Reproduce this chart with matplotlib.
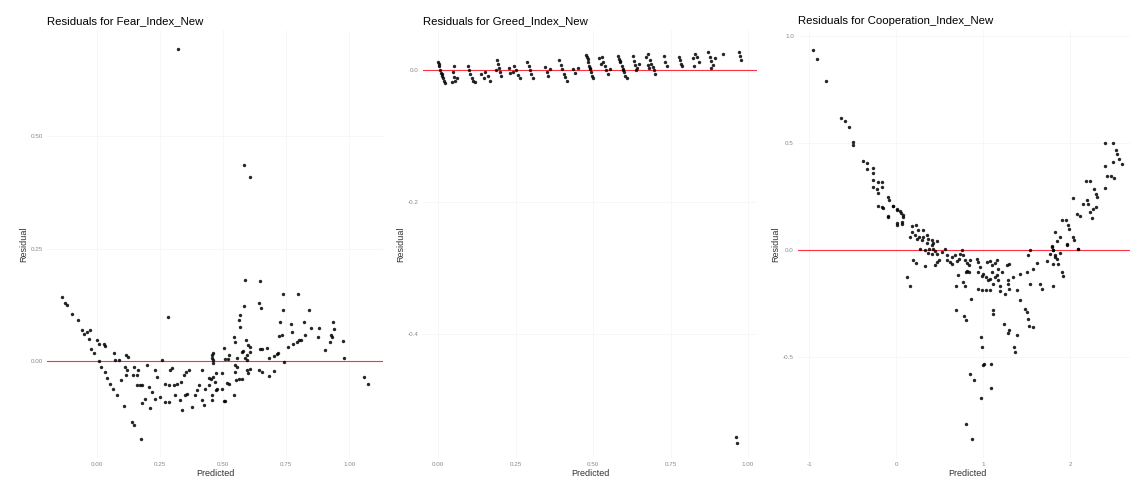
import numpy as np
import matplotlib
matplotlib.use('Agg')
import matplotlib.pyplot as plt

plt.rcParams['font.family'] = ['Liberation Sans', 'DejaVu Sans']

# --- Fear_Index_New residuals (predicted, residual) ---
fear_pred = [
    -0.14, -0.127, -0.12, -0.10, -0.077, -0.06, -0.054, -0.041, -0.028,
    -0.035, -0.001, 0.005, 0.025, 0.032, -0.024, -0.015, 0.005,
    0.016, 0.029, 0.038, 0.052, 0.061, 0.078, 0.104, 0.138, 0.146, 0.175,
    0.071, 0.085, 0.065, 0.114, 0.122,
    0.111, 0.118, 0.144, 0.161, 0.157, 0.140, 0.114, 0.095, 0.197, 0.257, 0.28,
    0.157, 0.171, 0.177, 0.204, 0.217, 0.23, 0.237, 0.19, 0.177, 0.21,
    0.23, 0.25, 0.27, 0.283, 0.29, 0.296,
    0.27, 0.283, 0.303, 0.316, 0.333, 0.342, 0.352, 0.362,
    0.31, 0.329, 0.349, 0.336, 0.356, 0.376, 0.389, 0.396, 0.402, 0.415,
    0.422, 0.429, 0.442, 0.455, 0.444, 0.415, 0.455, 0.461, 0.461,
    0.587, 0.644, 0.737, 0.795, 0.581, 0.640, 0.650, 0.567, 0.561, 0.565,
    0.737, 0.841, 0.726, 0.769, 0.819, 0.935, 0.940, 0.773, 0.848, 0.878, 0.875,
    0.723, 0.733, 0.825, 0.799, 0.808, 0.792, 0.776, 0.755, 0.927, 0.931,
    0.925, 0.977, 0.905, 0.980,
    0.544, 0.548, 0.591, 0.504, 0.6, 0.607, 0.604, 0.58, 0.574, 0.594, 0.587,
    0.594, 0.554, 0.521, 0.517, 0.647, 0.653, 0.673, 0.68, 0.7, 0.713, 0.719, 0.739,
    0.455, 0.461, 0.508, 0.548, 0.554, 0.548, 0.552, 0.561, 0.574, 0.594, 0.6,
    0.607, 0.64, 0.653, 0.68, 0.702, 0.495, 0.472, 0.461, 0.451, 0.468, 0.475,
    0.472, 0.495, 0.515, 0.521, 0.541, 0.501, 0.508, 0.455,
    1.06, 1.073, 0.321, 0.581, 0.604,
]
fear_resid = [
    0.143, 0.128, 0.124, 0.104, 0.091, 0.069, 0.061, 0.065, 0.069,
    0.050, 0.047, 0.039, 0.037, 0.034, 0.028, 0.017, 0.0,
    -0.013, -0.025, -0.037, -0.050, -0.061, -0.076, -0.10, -0.135, -0.141, -0.172,
    0.002, 0.002, 0.017, 0.013, 0.010,
    -0.013, -0.020, -0.013, -0.020, -0.031, -0.031, -0.031, -0.042, -0.009, 0.002, 0.098,
    -0.053, -0.053, -0.053, -0.057, -0.068, -0.02, -0.035, -0.083, -0.094, -0.105,
    -0.083, -0.079, -0.09, -0.09, -0.02, -0.016,
    -0.05, -0.053, -0.053, -0.05, -0.046, -0.031, -0.025, -0.02,
    -0.076, -0.087, -0.076, -0.109, -0.072, -0.101, -0.076, -0.064, -0.053, -0.087,
    -0.098, -0.061, -0.053, -0.076, -0.038, -0.02, 0.006, -0.005, 0.017,
    0.18, 0.178, 0.149, 0.149, 0.122, 0.13, 0.119, 0.102, 0.091, 0.075,
    0.113, 0.113, 0.086, 0.082, 0.086, 0.086, 0.071, 0.064, 0.073, 0.074, 0.053,
    0.056, 0.058, 0.058, 0.048, 0.047, 0.043, 0.038, 0.032, 0.058, 0.054,
    0.043, 0.045, 0.024, 0.008,
    0.054, 0.043, 0.048, 0.030, 0.036, 0.032, 0.021, 0.023, 0.021, 0.013, 0.006,
    0.002, 0.006, 0.013, 0.004, 0.026, 0.028, 0.030, 0.006, 0.011, 0.016, 0.019, -0.002,
    0.013, 0.002, 0.004, -0.009, -0.013, -0.024, -0.041, -0.039, -0.039, -0.02, -0.027,
    -0.018, -0.02, -0.024, -0.033, -0.022, -0.027, -0.027, -0.035, -0.039, -0.046, -0.061,
    -0.064, -0.061, -0.048, -0.051, -0.076, -0.088, -0.088, -0.087,
    -0.036, -0.051, 0.692, 0.436, 0.408,
]

# --- Greed_Index_New residuals ---
greed_pred = [
    0.000, 0.004, 0.007, 0.010, 0.013, 0.016, 0.019, 0.022, 0.002, 0.012,
    0.050, 0.048, 0.052, 0.055, 0.060, 0.045,
    0.096, 0.100, 0.104, 0.108, 0.112, 0.118,
    0.137, 0.148, 0.160, 0.168, 0.152,
    0.190, 0.193, 0.196, 0.199, 0.202, 0.188,
    0.228, 0.240, 0.245, 0.252, 0.258, 0.264, 0.232,
    0.288, 0.292, 0.296, 0.300, 0.306,
    0.346, 0.350, 0.356, 0.360,
    0.390, 0.395, 0.400, 0.405, 0.410, 0.415,
    0.436, 0.442, 0.450,
    0.478, 0.482, 0.485, 0.488, 0.491, 0.494, 0.497, 0.500, 0.480, 0.490,
    0.518, 0.528, 0.532, 0.538, 0.542, 0.548, 0.553, 0.525,
    0.580, 0.584, 0.588, 0.592, 0.596, 0.600, 0.604, 0.608, 0.586, 0.598,
    0.628, 0.632, 0.636, 0.642, 0.648, 0.638,
    0.672, 0.678, 0.684, 0.688, 0.692, 0.696, 0.700, 0.676, 0.682,
    0.728, 0.733, 0.737,
    0.776, 0.780, 0.784, 0.788,
    0.822, 0.830, 0.836, 0.826, 0.842,
    0.872, 0.878, 0.882, 0.888, 0.892, 0.880,
    0.920,
    0.970, 0.974, 0.978,
    0.960, 0.966,
]
greed_resid = [
    0.012, 0.006, 0.001, -0.004, -0.008, -0.012, -0.016, -0.020, 0.009, -0.006,
    0.006, -0.003, -0.010, -0.016, -0.012, -0.018,
    0.006, 0.000, -0.006, -0.012, -0.016, -0.018,
    -0.006, -0.012, -0.008, -0.016, -0.002,
    0.016, 0.009, 0.003, -0.003, -0.008, 0.000,
    0.003, -0.002, 0.006, 0.000, -0.007, -0.012, -0.004,
    0.012, 0.006, 0.000, -0.006, -0.012,
    0.005, -0.002, -0.008, 0.002,
    0.015, 0.008, 0.002, -0.005, -0.011, -0.017,
    0.002, -0.004, 0.004,
    0.023, 0.017, 0.012, 0.007, 0.002, -0.003, -0.008, -0.012, 0.020, 0.004,
    0.018, 0.020, 0.012, 0.006, 0.000, -0.005, 0.002, 0.010,
    0.022, 0.017, 0.012, 0.007, 0.002, -0.003, -0.008, -0.012, 0.014, 0.000,
    0.022, 0.014, 0.008, 0.004, 0.010, 0.001,
    0.020, 0.025, 0.016, 0.010, 0.005, 0.000, -0.005, 0.008, 0.004,
    0.022, 0.012, 0.007,
    0.020, 0.015, 0.010, 0.006,
    0.018, 0.024, 0.020, 0.006, 0.012,
    0.028, 0.020, 0.014, 0.008, 0.018, 0.004,
    0.024,
    0.028, 0.022, 0.016,
    -0.556, -0.565,
]

# --- Cooperation_Index_New residuals ---
coop_pred = [
    -0.95, -0.905, -0.805, -0.636, -0.586, -0.54, -0.498, -0.49,
    -0.376, -0.337, -0.33, -0.268, -0.268,
    -0.261, -0.203, -0.164, -0.261, -0.215, -0.203, -0.164,
    -0.089, -0.077, -0.031, 0.008, 0.046, 0.077, -0.203, -0.153, -0.089, 0.015, 0.066,
    -0.164, -0.038, 0.008, 0.054, 0.077, -0.089, 0.008, 0.066,
    0.187, 0.23, 0.257, 0.307, 0.18, 0.218, 0.268, 0.307, 0.353, 0.161, 0.238,
    0.296, 0.372, 0.411, 0.43, 0.353, 0.411, 0.475,
    0.276, 0.333, 0.383, 0.429, 0.372, 0.411, 0.448, 0.475, 0.525, 0.563, 0.583,
    0.64, 0.678, 0.736, 0.755, 0.774,
    0.199, 0.23, 0.333, 0.448, 0.475, 0.498, 0.583, 0.621, 0.64, 0.698, 0.728,
    0.793, 0.82, 0.851, 0.843, 0.928, 0.946, 0.966, 1.042, 1.08, 1.1, 1.138,
    1.157, 1.176, 1.215, 1.272, 1.302,
    0.123, 0.161, 0.716, 0.69, 0.774, 0.805, 0.82, 0.843, 0.793, 0.858, 0.946,
    0.985, 1.004, 1.034, 1.061, 1.08, 1.1, 1.111, 1.034, 1.08, 1.138, 1.157,
    1.176, 1.195, 1.195, 1.253, 1.291, 1.302, 0.946, 0.985,
    0.69, 0.782, 0.805, 1.111, 1.111, 1.241, 1.291, 1.302,
    0.973, 0.985, 0.997, 1.011, 1.088, 0.851, 0.9, 1.092, 0.977, 0.805, 0.87,
    1.39, 1.35, 1.37, 1.52, 1.57, 1.53,
    1.483, 1.502, 1.425, 1.387, 1.291, 1.349, 1.425, 1.502, 1.54, 1.655, 1.675,
    1.579, 1.617, 1.732, 1.808, 1.828, 1.808, 1.905, 1.924,
    1.521, 1.54, 1.79, 1.808, 1.828, 1.847, 1.866, 1.885, 1.962, 2.095,
    2.402, 2.49, 2.529, 2.544, 2.567, 2.594, 2.498, 2.402, 2.422, 2.468, 2.506, 2.402,
    2.184, 2.23, 2.276, 2.299, 2.314, 2.038, 2.192, 2.153, 2.21, 2.268, 2.299,
    2.23, 2.249, 2.115, 2.077, 1.905, 1.954, 1.981, 1.992, 1.828, 1.885, 1.847,
    2.031, 2.046, 1.969, 2.096, 1.79, 1.808, 1.77,
]
coop_resid = [
    0.938, 0.894, 0.794, 0.62, 0.604, 0.576, 0.506, 0.491,
    0.416, 0.41, 0.382, 0.386, 0.361,
    0.327, 0.319, 0.319, 0.296, 0.288, 0.27, 0.296,
    0.249, 0.234, 0.206, 0.195, 0.184, 0.164, 0.207, 0.2, 0.159, 0.128, 0.132,
    0.202, 0.206, 0.19, 0.174, 0.156, 0.156, 0.12, 0.125,
    0.112, 0.117, 0.097, 0.097, 0.086, 0.073, 0.065, 0.065, 0.07, 0.062, 0.054,
    0.047, 0.054, 0.047, 0.034, 0.034, 0.023, 0.043,
    0.008, 0.0, 0.008, 0.008, -0.012, -0.016, -0.003, -0.019, -0.008, 0.008, -0.023,
    -0.031, -0.023, -0.016, 0.0, -0.023,
    -0.047, -0.059, -0.075, -0.07, -0.055, -0.047, -0.044, -0.055, -0.065, -0.05, -0.039,
    -0.044, -0.059, -0.044, -0.07, -0.039, -0.055, -0.078, -0.055, -0.05, -0.07, -0.059,
    -0.044, -0.086, -0.101, -0.07, -0.062,
    -0.125, -0.164, -0.117, -0.164, -0.148, -0.101, -0.097, -0.101, -0.164, -0.229, -0.101,
    -0.121, -0.109, -0.125, -0.137, -0.133, -0.101, -0.156, -0.187, -0.184, -0.125, -0.117,
    -0.14, -0.164, -0.19, -0.203, -0.156, -0.179, -0.179, -0.187,
    -0.277, -0.308, -0.327, -0.277, -0.299, -0.343, -0.386, -0.374,
    -0.405, -0.449, -0.537, -0.529, -0.533, -0.579, -0.607, -0.643, -0.69, -0.81, -0.879,
    -0.397, -0.449, -0.477, -0.322, -0.36, -0.355,
    -0.273, -0.288, -0.23, -0.184, -0.14, -0.125, -0.109, -0.101, -0.159, -0.156, -0.179,
    -0.086, -0.059, -0.05, -0.062, -0.031, -0.168, -0.101, -0.121,
    -0.023, 0.0, 0.019, 0.0, -0.023, -0.039, -0.062, -0.013, 0.028, 0.008,
    0.501, 0.501, 0.467, 0.449, 0.428, 0.405, 0.413, 0.393, 0.35, 0.346, 0.34, 0.293,
    0.324, 0.324, 0.288, 0.265, 0.249, 0.244, 0.237, 0.218, 0.218, 0.195, 0.202,
    0.179, 0.153, 0.159, 0.171, 0.14, 0.143, 0.121, 0.101, 0.086, 0.062, 0.044,
    0.065, 0.047, 0.023, 0.008, 0.016, 0.0, -0.016,
]

titles = ['Residuals for Fear_Index_New', 'Residuals for Greed_Index_New',
          'Residuals for Cooperation_Index_New']
x_ticks = [[0.0, 0.25, 0.5, 0.75, 1.0], [0.0, 0.25, 0.5, 0.75, 1.0], [-1, 0, 1, 2]]
x_labels = [['0.00', '0.25', '0.50', '0.75', '1.00'],
            ['0.00', '0.25', '0.50', '0.75', '1.00'],
            ['-1', '0', '1', '2']]
y_ticks = [[0.0, 0.25, 0.5], [-0.4, -0.2, 0.0], [-0.5, 0.0, 0.5, 1.0]]
y_labels = [['0.00', '0.25', '0.50'], ['-0.4', '-0.2', '0.0'],
            ['-0.5', '0.0', '0.5', '1.0']]

# layout (pixels of a 1130x479 canvas)
W, H = 1130, 479
boxes = [(47, 383), (423, 757), (798, 1137)]
top, bottom = 30, 458
xlims = [(-0.20, 1.134), (-0.049, 1.029), (-1.128, 2.77)]
ylims = [(-0.215, 0.735), (-0.588, 0.061), (-0.97, 1.03)]

fig = plt.figure(figsize=(W / 100, H / 100), dpi=100)
data = [(fear_pred, fear_resid), (greed_pred, greed_resid), (coop_pred, coop_resid)]

for i, (xs, ys) in enumerate(data):
    x0, x1 = boxes[i]
    ax = fig.add_axes([x0 / W, 1 - bottom / H, (x1 - x0) / W, (bottom - top) / H])
    ax.set_xlim(*xlims[i])
    ax.set_ylim(*ylims[i])
    ax.grid(True, color='#f6f6f6', linewidth=0.6)
    ax.set_axisbelow(True)
    for s in ax.spines.values():
        s.set_visible(False)
    ax.axhline(0, color='#ff3040', linewidth=0.8, zorder=2)
    ax.scatter(xs, ys, s=6, color='black', alpha=0.85, linewidths=0, zorder=3)
    ax.set_xticks(x_ticks[i])
    ax.set_xticklabels(x_labels[i])
    ax.set_yticks(y_ticks[i])
    ax.set_yticklabels(y_labels[i])
    ax.tick_params(length=0, labelsize=4.5, labelcolor='#8a8a8a', pad=3)
    ax.set_xlabel('Predicted', fontsize=6.5, color='#333333', labelpad=1)
    ax.set_ylabel('Residual', fontsize=6.5, color='#333333', labelpad=2)
    ax.set_title(titles[i], fontsize=8.2, loc='left', pad=4)

fig.savefig('out.png', dpi=100)
